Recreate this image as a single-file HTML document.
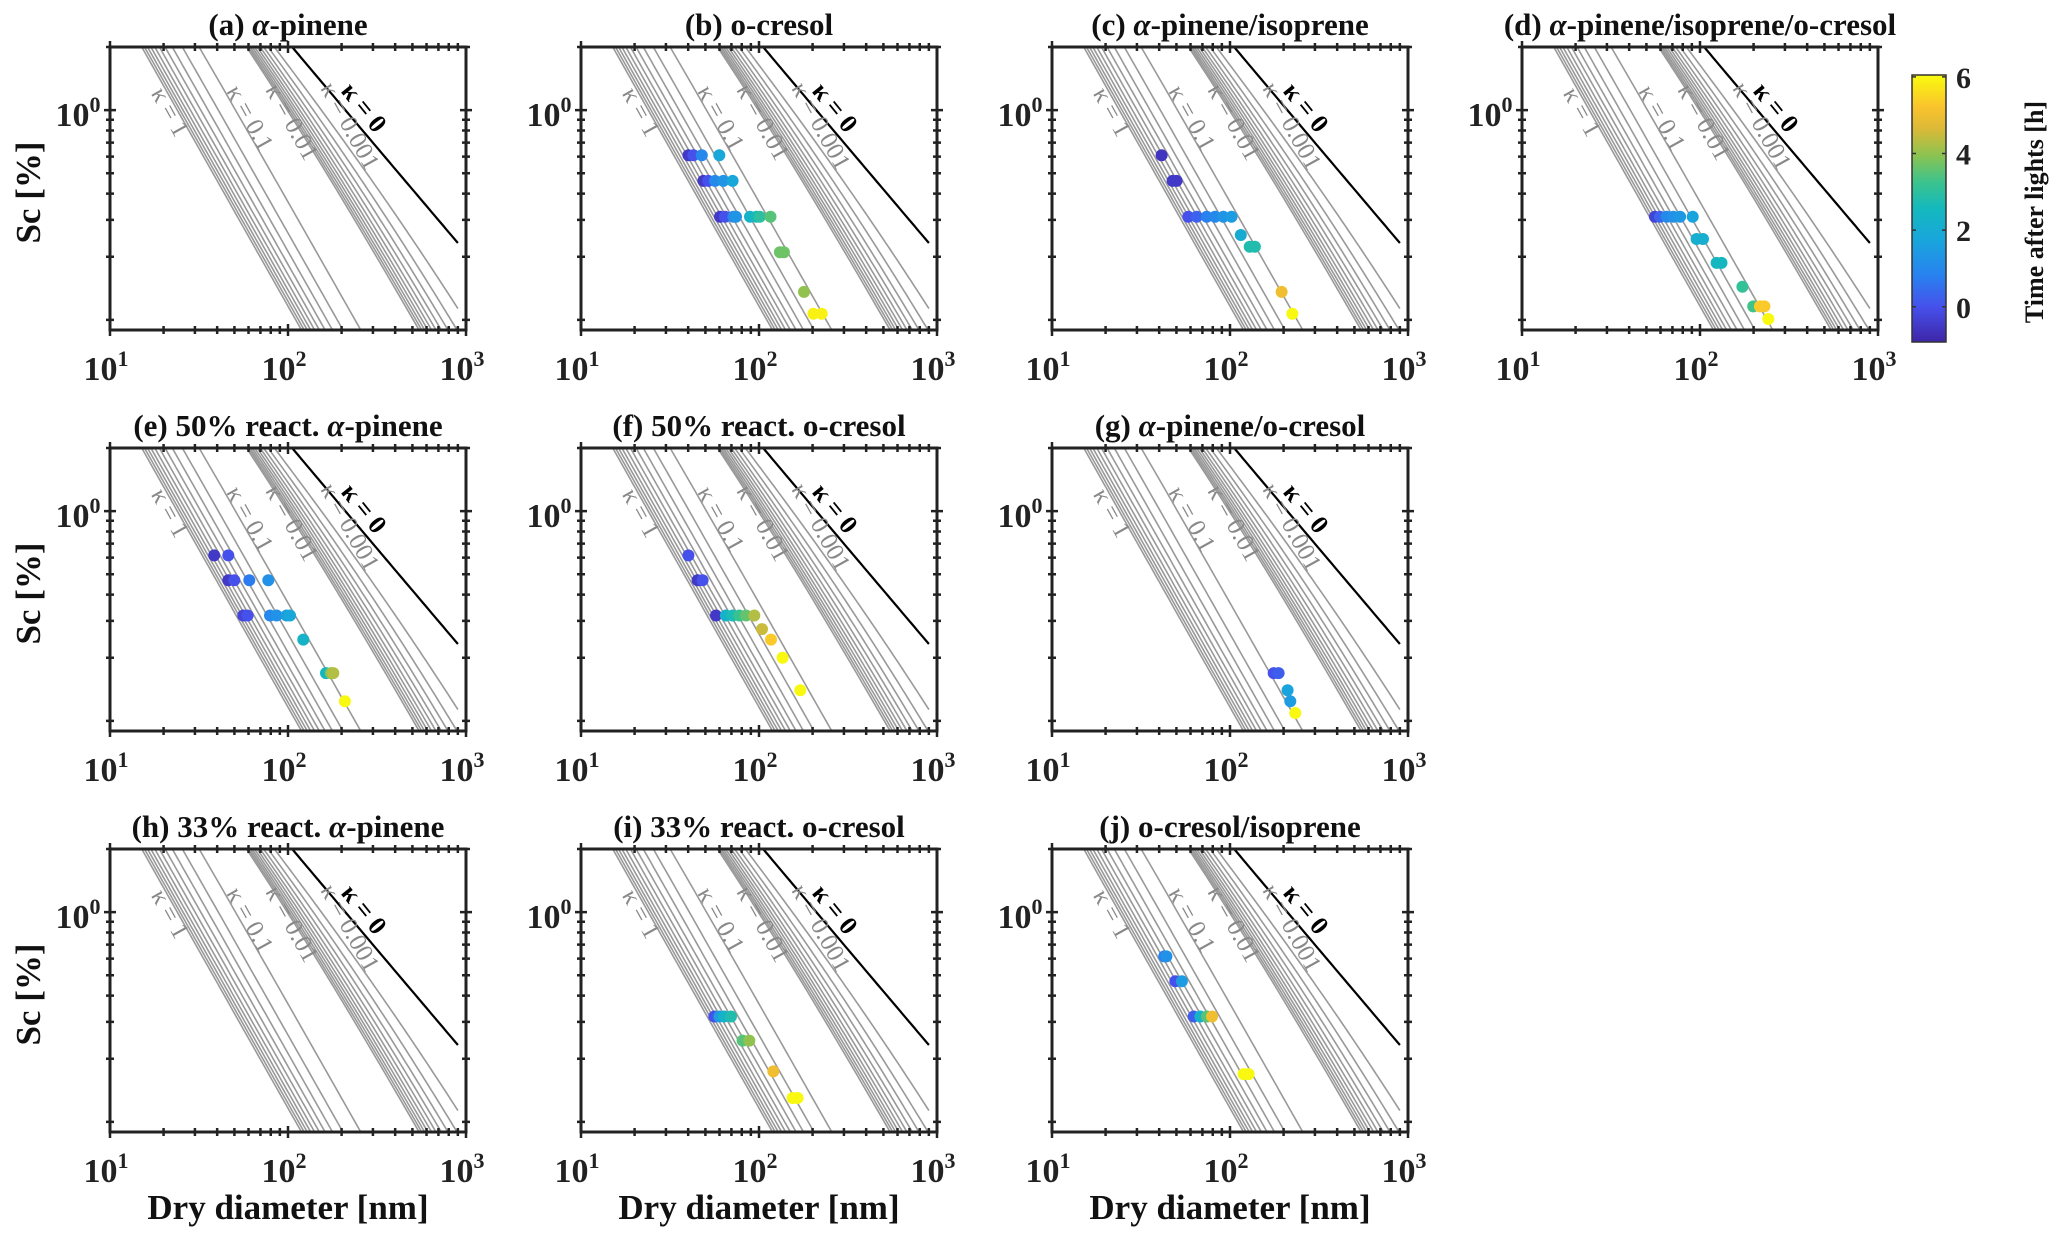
<!DOCTYPE html>
<html><head><meta charset="utf-8"><style>
html,body{margin:0;padding:0;background:#fff;overflow:hidden;width:2067px;height:1242px}
svg{display:block}
svg text{font-family:"Liberation Serif","Times New Roman",serif;}
</style></head><body>
<svg id="fig" width="2067" height="1242" viewBox="0 0 2067 1242" font-family="Liberation Serif, serif" xmlns="http://www.w3.org/2000/svg"></svg>
<script>
// ---------- data ----------
const panelTitles = ["(a) |α|-pinene","(b) o-cresol","(c) |α|-pinene/isoprene","(d) |α|-pinene/isoprene/o-cresol",
  "(e) 50% react. |α|-pinene","(f) 50% react. o-cresol","(g) |α|-pinene/o-cresol",
  "(h) 33% react. |α|-pinene","(i) 33% react. o-cresol","(j) o-cresol/isoprene"];
const kappaGroup1 = [1,0.9,0.8,0.7,0.6,0.5,0.4,0.3,0.2,0.1];
const kappaGroup2 = [0.01,0.009,0.008,0.007,0.006,0.005,0.004,0.003,0.002,0.001];
const kappaLabels = ["κ = 1","κ = 0.1","κ = 0.01","κ = 0.001"];
const xTickExp = [1,2,3];
const colorTicks = [0,2,4,6];

const dA=[], scA=[], tA=[];
const dB=[40.1,42.8,47.7,59.8, 48.7,51.9,56.6,63,71.1, 60.4,64.4,71.8,74.3,89,97,101,116, 131,138, 179, 202,225];
const scB=[.61,.61,.61,.61, .46,.46,.46,.46,.46, .31,.31,.31,.31,.31,.31,.31,.31, .21,.21, .136, .107,.107];
const tB=[-0.5,0,1,1.8, -0.5,0,1,1.3,1.8, -0.5,0,1,1.3,2.3,2.6,3,3.5, 3.7,3.7, 4, 5.9,5.9];
const dC=[41.3, 47.6,50.1, 58.3,65,74,82.4,91.7,102, 115, 129,138, 195, 224];
const scC=[.61, .46,.46, .31,.31,.31,.31,.31,.31, .254, .223,.223, .136, .107];
const tC=[-0.6, -0.5,-0.5, 0,0.3,0.8,1,1.3,1.5, 2, 2.8,2.8, 5, 6];
const dD=[55.8,59.6,65,70.8,77.3,91, 95.7,104, 124,132, 173, 199,217,230, 242];
const scD=[.31,.31,.31,.31,.31,.31, .243,.243, .187,.187, .144, .116,.116,.116, .101];
const tD=[-0.3,0.3,1,1.2,1.4,1.7, 2.1,2.1, 2.5,2.5, 3.1, 3.3,5.3,5.3, 6];
const dE=[38.5,46.2, 46.2,49.9,60.6,77.5, 56.1,59.3,79.2,86.3,98.2,102.6, 121.9, 163.5,174.4,179.7, 208.9];
const scE=[.615,.615, .468,.468,.468,.468, .318,.318,.318,.318,.318,.318, .244, .169,.169,.169, .124];
const tE=[-0.5,0, -0.5,0,0.7,1.2, -0.3,0,1,1.2,1.6,1.8, 2.3, 2.5,4,4.3, 6];
const dF=[40.1, 45.2,48.2, 57.3,65.2,71.1,77.5,84.5,94.1, 103.9, 116.8, 135.7, 170.6];
const scF=[.615, .468,.468, .318,.318,.318,.318,.318,.318, .274, .244, .20, .14];
const tF=[0, -0.5,0, -0.5,2.3,2.7,3.2,3.6,4.3, 4.5, 5.3, 6, 6];
const dG=[175.9,187.6, 210.8, 218.2, 232.8];
const scG=[.169,.169, .14, .124, .109];
const tG=[0,0.2, 1.7, 1.5, 6];
const dH=[], scH=[], tH=[];
const dI=[56.1,59.8,63.8,69.6, 80.9,88.2, 120.3, 154.5,164.8];
const scI=[.318,.318,.318,.318, .244,.244, .174, .130,.130];
const tI=[0,1.5,2.3,2.8, 3.5,4, 5, 6,6];
const dJ=[42.7,43.9, 49.3,53.7, 62.5,68.1,74.2,79.2, 119.3,127.2];
const scJ=[.615,.615, .468,.468, .318,.318,.318,.318, .169,.169];
const tJ=[0.8,1.2, 0,1.5, 0.2,2.3,3.5,5, 6,6];

// ---------- layout ----------
const NS="http://www.w3.org/2000/svg";
const svg=document.getElementById('fig');
const FONT='"Liberation Serif", serif';
const colLeft=[110,581,1052,1522], rowTop=[47,448,849];
const W=356,H=283;
const xMin=10,xMax=1000,yMin=0.0895,yMax=2.0;
const A=2.09; // Kelvin parameter, nm
const cMin=-0.92,cMax=6.05;
const panels=[[dA,scA,tA],[dB,scB,tB],[dC,scC,tC],[dD,scD,tD],[dE,scE,tE],[dF,scF,tF],[dG,scG,tG],[dH,scH,tH],[dI,scI,tI],[dJ,scJ,tJ]];
const pos=[[0,0],[1,0],[2,0],[3,0],[0,1],[1,1],[2,1],[0,2],[1,2],[2,2]];

function el(tag,attrs,parent){const e=document.createElementNS(NS,tag);for(const k in attrs)e.setAttribute(k,attrs[k]);if(tag==='text')e.setAttribute('font-family',FONT);(parent||svg).appendChild(e);return e;}
function sx(L,d){return L+(Math.log10(d)-Math.log10(xMin))/(Math.log10(xMax)-Math.log10(xMin))*W;}
function sy(T,s){return T+(Math.log10(yMax)-Math.log10(s))/(Math.log10(yMax)-Math.log10(yMin))*H;}

const stops=[[0,[62,38,168]],[0.13,[70,80,235]],[0.25,[40,130,240]],[0.38,[25,165,220]],[0.5,[20,185,190]],[0.6,[60,195,140]],[0.7,[140,195,80]],[0.8,[220,185,55]],[0.88,[250,195,45]],[1,[249,251,14]]];
function parula(v){v=Math.max(0,Math.min(1,v));for(let i=1;i<stops.length;i++){if(v<=stops[i][0]){const a=stops[i-1],b=stops[i];const f=(v-a[0])/(b[0]-a[0]);const c=a[1].map((x,j)=>Math.round(x+(b[1][j]-x)*f));return `rgb(${c[0]},${c[1]},${c[2]})`;}}return 'rgb(249,251,14)';}

function critSS(D,k){ // percent
  if(k===0) return 100*(Math.exp(A/D)-1);
  const S=lw=>{const w=Math.exp(lw),w3=w*w*w,d3=D*D*D;return (w3-d3)/(w3-d3*(1-k))*Math.exp(A/w);};
  let a=Math.log(D*1.0001),b=Math.log(D*1e4);const g=0.618034;
  let c=b-g*(b-a),d=a+g*(b-a);
  for(let i=0;i<80;i++){if(S(c)>S(d))b=d;else a=c;c=b-g*(b-a);d=a+g*(b-a);}
  return 100*(S((a+b)/2)-1);
}
function curvePath(L,T,k){
  let p='';const n=120;
  for(let i=0;i<=n;i++){const D=Math.pow(10,1+i/n*(Math.log10(900)-1));const s=critSS(D,k);
    p+=(i?'L':'M')+sx(L,D).toFixed(1)+','+sy(T,s).toFixed(1);}
  return p;
}
function titleText(parent,str,x,y){
  const t=el('text',{x:x,y:y,'text-anchor':'middle','font-size':31,'font-weight':'bold',fill:'#111'},parent);
  str.split('|').forEach((part,i)=>{const ts=el('tspan',{},t);ts.textContent=part;if(i%2===1)ts.setAttribute('font-style','italic');});
  return t;
}
const defs=el('defs',{});

panels.forEach((pd,pi)=>{
  const L=colLeft[pos[pi][0]],T=rowTop[pos[pi][1]];
  const g=el('g',{});
  
  
  const cp=el('clipPath',{id:'clip'+pi},defs);el('rect',{x:L,y:T,width:W,height:H},cp);
  const cg=el('g',{'clip-path':'url(#clip'+pi+')'},g);
  
  
  kappaGroup1.concat(kappaGroup2).forEach(k=>{
    const p=el('path',{d:curvePath(L,T,k),fill:'none',stroke:'#999','stroke-width':1.6},cg);
    
    
  });
  const k0=el('path',{d:curvePath(L,T,0),fill:'none',stroke:'#000','stroke-width':2.2},cg);
  
  
  const lp=[[58,66],[138,72],[180,76],[238,80]];
  kappaLabels.forEach((s,i)=>{
    const t=el('text',{x:L+lp[i][0],y:T+lp[i][1],'text-anchor':'middle','dominant-baseline':'middle','font-size':25,fill:'#888',transform:`rotate(61 ${L+lp[i][0]} ${T+lp[i][1]})`},g);
    t.textContent=s;
    
    
  });
  const t0=el('text',{x:L+252,y:T+62,'text-anchor':'middle','dominant-baseline':'middle','font-size':26,'font-weight':'bold',fill:'#000',transform:`rotate(51 ${L+252} ${T+62})`},g);
  t0.textContent='κ = 0';
  
  
  const [dd,ss,tt]=pd;
  dd.forEach((D,i)=>{
    const c=el('circle',{cx:sx(L,D).toFixed(1),cy:sy(T,ss[i]).toFixed(1),r:6,fill:parula((tt[i]-cMin)/(cMax-cMin))},g);
    
    
  });
  const bx=el('rect',{x:L,y:T,width:W,height:H,fill:'none',stroke:'#222','stroke-width':3},g);
  
  
  let tp='';
  for(let e=1;e<3;e++)for(let m=1;m<10;m++){const x=sx(L,m*Math.pow(10,e));const len=m===1?6:4;
    tp+=`M${x},${T+H-len}L${x},${T+H+len}M${x},${T-len}L${x},${T+len}`;}
  tp+=`M${L+W},${T+H-6}L${L+W},${T+H+6}`;
  [0.1,0.2,0.3,0.4,0.5,0.6,0.7,0.8,0.9,1,2].forEach(v=>{const y=sy(T,v);const len=v===1?6:4;
    tp+=`M${L-len},${y}L${L+len},${y}M${L+W-len},${y}L${L+W+len},${y}`;});
  const tk=el('path',{d:tp,stroke:'#222','stroke-width':2.5,fill:'none'},g);
  
  
  xTickExp.forEach(e=>{
    const x=sx(L,Math.pow(10,e));
    const t=el('text',{x:x-4,y:T+H+50,'text-anchor':'middle','font-size':34,'font-weight':'bold',fill:'#222'},g);
    t.textContent='10';
    const sp=el('tspan',{dy:-14,'font-size':22},t);sp.textContent=String(e);
    
    
  });
  const yl=el('text',{x:L-32,y:sy(T,1)+16,'text-anchor':'middle','font-size':34,'font-weight':'bold',fill:'#222'},g);
  yl.textContent='10';
  const ysp=el('tspan',{dy:-14,'font-size':22},yl);ysp.textContent='0';
  
  
  const tt2=titleText(g,panelTitles[pi],L+W/2,T-12);
  
  
  if(pos[pi][0]===0){
    const cy=T+H/2+4;
    const ylab=el('text',{x:32,y:cy,'text-anchor':'middle','dominant-baseline':'middle','font-size':35,'font-weight':'bold',fill:'#111',transform:`rotate(-90 32 ${cy})`},g);
    ylab.textContent='Sc [%]';
    
    
  }
  if(pos[pi][1]===2){
    const xl=el('text',{x:L+W/2,y:1219,'text-anchor':'middle','font-size':35,'font-weight':'bold',fill:'#111'},g);
    xl.textContent='Dry diameter [nm]';
    
    
  }
});

const cbX=1912,cbY=75,cbW=34,cbH=267;
const lg=el('linearGradient',{id:'cbg',x1:0,y1:1,x2:0,y2:0},defs);
stops.forEach(s=>{el('stop',{offset:s[0],'stop-color':parula(s[0])},lg);});
const cb=el('rect',{x:cbX,y:cbY,width:cbW,height:cbH,fill:'url(#cbg)',stroke:'#333','stroke-width':1.5});


colorTicks.forEach(v=>{
  const y=cbY+cbH-(v-cMin)/(cMax-cMin)*cbH;
  el('path',{d:`M${cbX},${y}L${cbX+4},${y}M${cbX+cbW-4},${y}L${cbX+cbW},${y}`,stroke:'#333','stroke-width':1.5});
  const t=el('text',{x:cbX+cbW+10,y:y+11,'font-size':30,'font-weight':'bold',fill:'#222'});
  t.textContent=String(v);
  
  
});
const cl=el('text',{x:2037,y:212,'text-anchor':'middle','dominant-baseline':'middle','font-size':26,'font-weight':'bold',fill:'#111',transform:'rotate(-90 2037 212)'});
cl.textContent='Time after lights [h]';


</script>
</body></html>
